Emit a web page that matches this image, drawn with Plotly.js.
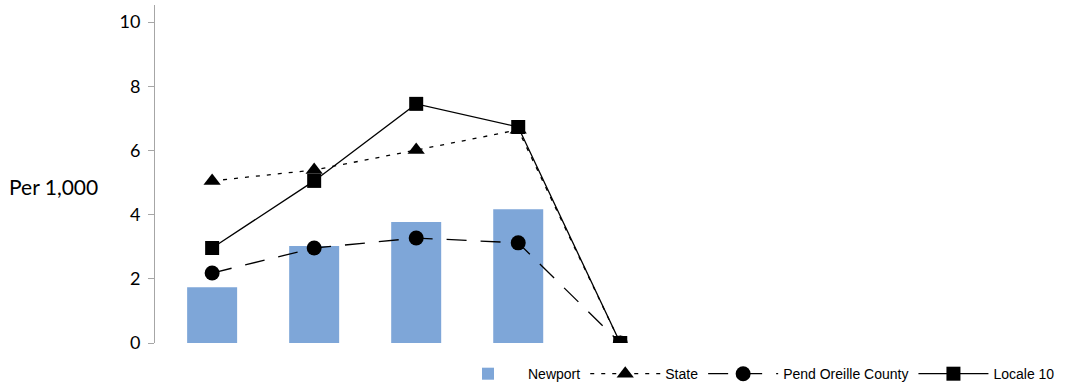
<!DOCTYPE html>
<html>
<head>
<meta charset="utf-8">
<script src="https://cdn.plot.ly/plotly-3.0.1.min.js"></script>
<style>html,body{margin:0;padding:0;background:#fff;}#chart{width:1077px;height:386px;}</style>
</head>
<body>
<div id="chart"></div>
<script>
const categories = ["1", "2", "3", "4", "5"];
const newport = [1.74, 3.02, 3.77, 4.17, null];
const state = [5.05, 5.39, 6.01, 6.64, 0];
const county = [2.18, 2.96, 3.27, 3.12, 0];
const locale = [2.96, 5.05, 7.45, 6.73, 0];
const yTicks = [0, 2, 4, 6, 8, 10];

const traces = [
  {type: 'bar', name: 'Newport', x: categories, y: newport,
   marker: {color: '#7EA6D8'}, width: 0.49},
  {type: 'scatter', mode: 'lines+markers', name: 'State', x: categories, y: state,
   line: {color: '#000', width: 1.3, dash: '4px,7px'},
   marker: {symbol: 'triangle-up', size: 15, color: '#000'}},
  {type: 'scatter', mode: 'lines+markers', name: 'Pend Oreille County', x: categories, y: county,
   line: {color: '#000', width: 1.3, dash: '20px,14px'},
   marker: {symbol: 'circle', size: 15, color: '#000'}},
  {type: 'scatter', mode: 'lines+markers', name: 'Locale 10', x: categories, y: locale,
   line: {color: '#000', width: 1.3},
   marker: {symbol: 'square', size: 14, color: '#000'}}
];

const layout = {
  width: 1077, height: 386,
  margin: {l: 155, r: 17, t: 5, b: 43, autoexpand: false},
  paper_bgcolor: '#fff', plot_bgcolor: '#fff',
  showlegend: true,
  hovermode: false,
  font: {family: 'Lato, "Open Sans", sans-serif', color: '#000'},
  xaxis: {type: 'category', range: [-0.56, 8.31], showticklabels: false,
          showline: false, showgrid: false, zeroline: false, ticks: ''},
  yaxis: {range: [0, 10.53], tickvals: yTicks, ticktext: yTicks.map(String),
          showline: true, linecolor: '#A6A6A6', linewidth: 1,
          ticks: 'outside', ticklen: 6, tickcolor: '#A6A6A6',
          ticklabelstandoff: 4,
          showgrid: false, zeroline: false,
          tickfont: {size: 18, family: 'Lato, "Open Sans", sans-serif'}},
  legend: {orientation: 'h', x: 1, xanchor: 'right', y: -0.092, yanchor: 'middle',
           font: {size: 14, family: '"Liberation Sans", Arial, sans-serif'},
           itemwidth: 70, traceorder: 'normal'},
  annotations: [{text: 'Per 1,000', xref: 'paper', yref: 'paper', x: -0.164, xanchor: 'left',
                 y: 0.464, yanchor: 'middle', showarrow: false,
                 font: {size: 21, family: 'Lato, "Open Sans", sans-serif'}}]
};

Plotly.newPlot('chart', traces, layout, {displayModeBar: false, staticPlot: true});
</script>
</body>
</html>
